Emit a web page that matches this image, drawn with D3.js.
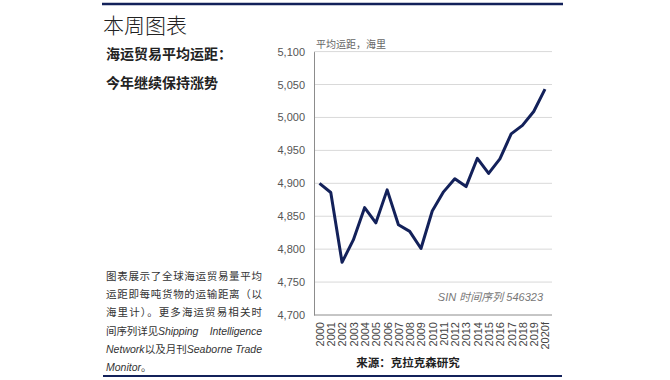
<!DOCTYPE html>
<html>
<head>
<meta charset="utf-8">
<script src="https://cdn.jsdelivr.net/npm/d3@7"></script>
<style>
  body { margin: 0; background: #fff; }
  svg text { font-family: "Liberation Sans", Arial, "Noto Sans CJK SC", sans-serif; }
  .cjk { font-family: "Noto Sans CJK SC", sans-serif; }
</style>
</head>
<body>
<svg id="chart" width="670" height="380"></svg>
<script>
// chart data
const years = ["2000","2001","2002","2003","2004","2005","2006","2007","2008","2009","2010",
  "2011","2012","2013","2014","2015","2016","2017","2018","2019","2020f"];
const distance = [4900,4886,4780,4814,4863,4840,4890,4837,4827,4801,4858,
  4887,4907,4895,4938,4915,4937,4975,4988,5009,5043];
const yTicks = [4700,4750,4800,4850,4900,4950,5000,5050,5100];

const navy = "#13215a";
const svg = d3.select("#chart");

// frame rules
svg.append("line").attr("x1", 102).attr("x2", 563).attr("y1", 4).attr("y2", 4)
  .attr("stroke", navy).attr("stroke-width", 2.5);
svg.append("line").attr("x1", 103).attr("x2", 562).attr("y1", 376).attr("y2", 376)
  .attr("stroke", navy).attr("stroke-width", 2);

// headings
svg.append("text").attr("class", "cjk").attr("x", 103).attr("y", 33)
  .attr("font-size", 21).attr("font-weight", 300).attr("fill", "#222").text("本周图表");
svg.append("text").attr("class", "cjk").attr("x", 106).attr("y", 59)
  .attr("font-size", 14).attr("font-weight", 700).attr("fill", "#222").text("海运贸易平均运距：");
svg.append("text").attr("class", "cjk").attr("x", 106).attr("y", 88)
  .attr("font-size", 14).attr("font-weight", 700).attr("fill", "#222").text("今年继续保持涨势");

// left paragraph
const para = [
  [["图表展示了全球海运贸易量平均", false]],
  [["运距即每吨货物的运输距离（以", false]],
  [["海里计）。更多海运贸易相关时", false]],
  [["间序列详见", false], ["Shipping    Intelligence", true]],
  [["Network", true], ["以及月刊", false], ["Seaborne Trade", true]],
  [["Monitor", true], ["。", false]]
];
para.forEach((parts, i) => {
  const t = svg.append("text").attr("x", 106).attr("y", 280 + i * 18.2)
    .attr("font-size", 10.5).attr("fill", "#333").attr("xml:space", "preserve");
  if (i < 5) t.attr("textLength", 156).attr("lengthAdjust", "spacing");
  parts.forEach(p => {
    t.append("tspan").attr("font-style", p[1] ? "italic" : "normal")
      .attr("class", p[1] ? null : "cjk").text(p[0]);
  });
});

// scales
const x = d3.scalePoint().domain(years).range([319.5, 545]);
const y = d3.scaleLinear().domain([4700, 5100]).range([315, 51.6]);

// grid
svg.append("g").selectAll("line").data(yTicks.slice(1)).join("line")
  .attr("x1", 314).attr("x2", 552)
  .attr("y1", d => y(d)).attr("y2", d => y(d))
  .attr("stroke", "#d9d9d9").attr("stroke-width", 1);

// y axis
const yAxis = svg.append("g").attr("transform", "translate(314,0)")
  .call(d3.axisLeft(y).tickValues(yTicks).tickSize(0).tickPadding(9).tickFormat(d3.format(",")));
yAxis.select(".domain").attr("stroke", "#8c8c8c");
yAxis.selectAll("text").attr("font-size", 11).attr("fill", "#555")
  .attr("font-family", "Liberation Sans, Arial, sans-serif");

// x axis
const xAxis = svg.append("g").attr("transform", "translate(0,315)")
  .call(d3.axisBottom(x).tickSize(0).tickPadding(0));
xAxis.select(".domain").attr("d", "M314,0H552").attr("stroke", "#8c8c8c");
xAxis.selectAll("text")
  .attr("font-size", 11).attr("fill", "#444")
  .attr("font-family", "Liberation Sans, Arial, sans-serif")
  .attr("transform", "rotate(-90)")
  .attr("text-anchor", "end")
  .attr("x", -7).attr("y", 0).attr("dy", "0.35em");

// line
svg.append("path").datum(distance)
  .attr("fill", "none").attr("stroke", navy).attr("stroke-width", 3)
  .attr("stroke-linejoin", "round")
  .attr("d", d3.line().x((d, i) => x(years[i])).y(d => y(d)));

// chart annotations
svg.append("text").attr("class", "cjk").attr("x", 316).attr("y", 48)
  .attr("font-size", 10).attr("fill", "#666").text("平均运距，海里");
const sin = svg.append("text").attr("x", 543).attr("y", 301).attr("text-anchor", "end")
  .attr("font-size", 11).attr("fill", "#777").attr("font-style", "italic");
sin.append("tspan").text("SIN ");
sin.append("tspan").attr("class", "cjk").text("时间序列");
sin.append("tspan").text(" 546323");

svg.append("text").attr("class", "cjk").attr("x", 408).attr("y", 367)
  .attr("text-anchor", "middle").attr("font-size", 11.5).attr("font-weight", 700)
  .attr("fill", "#222").text("来源：克拉克森研究");
</script>
</body>
</html>
